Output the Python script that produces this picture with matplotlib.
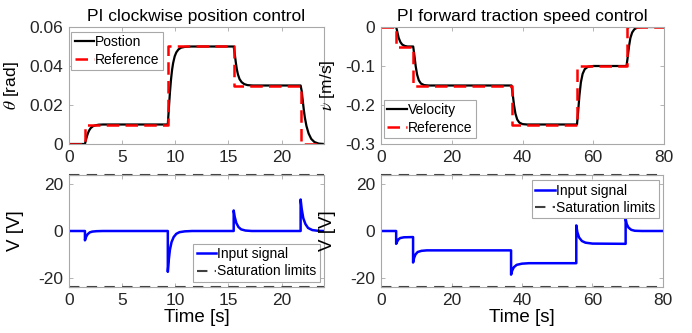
import matplotlib.pyplot as plt

plt.rcParams['font.family'] = ['Liberation Sans', 'DejaVu Sans']
plt.rcParams['mathtext.fontset'] = 'stix'

# --- position control (left column) ---
pos_ref_t = [0, 1.5, 9.3, 15.5, 21.8, 24]
pos_ref = [0, 0.01, 0.05, 0.03, 0, 0]

pos_t = [0, 1.5, 1.6, 1.7, 1.8, 1.9, 2.05, 2.25, 2.5, 2.8, 3.2, 3.8,
         9.3, 9.4, 9.5, 9.6, 9.7, 9.8, 9.95, 10.1, 10.3, 10.55, 10.9, 11.5,
         15.5, 15.6, 15.7, 15.8, 15.9, 16.05, 16.25, 16.5, 16.8, 17.3,
         21.8, 21.9, 22.0, 22.1, 22.2, 22.35, 22.55, 22.8, 23.1, 23.5, 24]
pos = [0, 0, 0.0022, 0.0042, 0.0058, 0.007, 0.0082, 0.0091, 0.0096, 0.0099, 0.01, 0.01,
       0.01, 0.0185, 0.0265, 0.033, 0.038, 0.0415, 0.045, 0.047, 0.0485, 0.0494, 0.0498, 0.05,
       0.05, 0.0462, 0.0418, 0.0382, 0.0357, 0.0333, 0.0317, 0.0307, 0.0302, 0.03,
       0.03, 0.0272, 0.0222, 0.0175, 0.0135, 0.0092, 0.0054, 0.0026, 0.001, 0.0002, 0]

u_pos_t = [0, 1.5, 1.5, 1.6, 1.75, 1.95, 2.2, 2.6, 3.2,
           9.3, 9.3, 9.4, 9.5, 9.65, 9.85, 10.1, 10.4, 10.9, 11.6,
           15.5, 15.5, 15.6, 15.75, 15.95, 16.2, 16.6, 17.2,
           21.8, 21.8, 21.9, 22.05, 22.25, 22.5, 22.9, 23.5, 24]
u_pos = [0, 0, -4.0, -2.6, -1.4, -0.6, -0.25, -0.08, 0,
         0, -17.5, -12.0, -8.0, -4.8, -2.6, -1.2, -0.5, -0.15, 0,
         0, 8.8, 6.0, 3.4, 1.7, 0.7, 0.2, 0,
         0, 13.5, 9.5, 5.5, 3.0, 1.3, 0.4, 0.05, 0]

# --- speed control (right column) ---
vel_ref_t = [0, 4.3, 9.1, 36.9, 55.4, 69.4, 80]
vel_ref = [0, -0.05, -0.15, -0.25, -0.1, 0, 0]

vel_t = [0, 4.3, 4.6, 5.0, 5.5, 6.0, 6.7, 7.5,
         9.1, 9.4, 9.8, 10.2, 10.7, 11.3, 12.2, 13.5,
         36.9, 37.2, 37.6, 38.0, 38.5, 39.1, 40.0, 41.3,
         55.4, 55.7, 56.1, 56.5, 57.0, 57.6, 58.5, 60.0,
         69.4, 69.7, 70.1, 70.5, 71.0, 71.6, 72.5, 74.0, 80]
vel = [0, 0, -0.012, -0.028, -0.039, -0.045, -0.0485, -0.05,
       -0.05, -0.07, -0.1, -0.122, -0.137, -0.145, -0.149, -0.15,
       -0.15, -0.17, -0.2, -0.222, -0.237, -0.245, -0.249, -0.25,
       -0.25, -0.22, -0.175, -0.142, -0.12, -0.108, -0.102, -0.1,
       -0.1, -0.08, -0.05, -0.028, -0.014, -0.006, -0.001, 0, 0]

u_vel_t = [0, 4.3, 4.3, 4.6, 5.0, 5.5, 6.5, 9.1,
           9.1, 9.4, 9.8, 10.4, 11.5, 13.0, 36.9,
           36.9, 37.2, 37.7, 38.5, 40.0, 42.0, 55.4,
           55.4, 55.7, 56.2, 57.0, 58.0, 60.0, 69.4,
           69.4, 69.7, 70.2, 71.0, 72.0, 74.0, 80]
u_vel = [0, 0, -5.5, -4.5, -3.5, -3.0, -2.7, -2.6,
         -13.5, -11.5, -10.0, -9.0, -8.5, -8.3, -8.3,
         -18.7, -17.0, -15.5, -14.5, -14.0, -13.8, -13.8,
         2.4, -0.5, -2.8, -4.3, -5.0, -5.4, -5.5,
         5.2, 3.0, 1.5, 0.5, 0.1, 0, 0]

sat_limit = 24

pos_xticks = [0, 5, 10, 15, 20]
vel_xticks = [0, 20, 40, 60, 80]
pos_yticks = [0, 0.02, 0.04, 0.06]
pos_ylabels = ['0', '0.02', '0.04', '0.06']
vel_yticks = [-0.3, -0.2, -0.1, 0]
vel_ylabels = ['-0.3', '-0.2', '-0.1', '0']
u_yticks = [-20, 0, 20]
u_ylabels = ['-20', '0', '20']

W, H = 692, 333
fig = plt.figure(figsize=(W / 100, H / 100), dpi=100)


def px_axes(left, top, right, bottom):
    return fig.add_axes([left / W, 1 - bottom / H, (right - left) / W, (bottom - top) / H])


def style(ax):
    for s in ax.spines.values():
        s.set_color('#a8a8a8')
        s.set_linewidth(0.8)
    ax.tick_params(direction='in', top=True, right=True, length=3, width=0.6,
                   color='#a8a8a8', labelcolor='#262626', labelsize=12.5, pad=4)


def legend(ax, loc, anchor):
    lg = ax.legend(loc=loc, bbox_to_anchor=anchor, borderaxespad=0, fontsize=10,
                   handlelength=1.4, handletextpad=0.1, labelspacing=0.25,
                   borderpad=0.25, fancybox=False, framealpha=1, edgecolor='#a8a8a8')
    lg.get_frame().set_linewidth(0.8)


def saturation(ax):
    ax.axhline(sat_limit, color='#404040', lw=1.5, ls=(0, (5, 3.5)),
               clip_on=False, label='Saturation limits')
    ax.axhline(-sat_limit, color='#404040', lw=1.5, ls=(0, (5, 3.5)), clip_on=False)


# top left
ax1 = px_axes(69, 27, 324, 144)
ax1.plot(pos_t, pos, color='black', lw=1.6, label='Postion')
ax1.plot(pos_ref_t, pos_ref, color='red', lw=1.8, ls=(0, (5, 2.5)),
         drawstyle='steps-post', label='Reference')
ax1.set_xlim(0, 24)
ax1.set_ylim(0, 0.06)
ax1.set_xticks(pos_xticks)
ax1.set_yticks(pos_yticks, pos_ylabels)
ax1.set_title('PI clockwise position control', fontsize=12.5, pad=4)
ax1.set_ylabel(r'$\theta$ [rad]', fontsize=12.5)
ax1.yaxis.set_label_coords(-0.19, 0.5)
style(ax1)
legend(ax1, 'upper left', (0.008, 0.96))

# top right
ax2 = px_axes(381, 27, 664, 144)
ax2.plot(vel_t, vel, color='black', lw=1.6, label='Velocity')
ax2.plot(vel_ref_t, vel_ref, color='red', lw=1.8, ls=(0, (5, 2.5)),
         drawstyle='steps-post', label='Reference')
ax2.set_xlim(0, 80)
ax2.set_ylim(-0.3, 0)
ax2.set_xticks(vel_xticks)
ax2.set_yticks(vel_yticks, vel_ylabels)
ax2.set_title('PI forward traction speed control', fontsize=12.5, pad=4)
ax2.set_ylabel(r'$\nu$ [m/s]', fontsize=12.5)
ax2.yaxis.set_label_coords(-0.155, 0.5)
style(ax2)
legend(ax2, 'lower left', (0.01, 0.05))

# bottom left
ax3 = px_axes(69, 175, 324, 287)
ax3.plot(u_pos_t, u_pos, color='blue', lw=1.8, label='Input signal')
saturation(ax3)
ax3.set_xlim(0, 24)
ax3.set_ylim(-sat_limit, sat_limit)
ax3.set_xticks(pos_xticks)
ax3.set_yticks(u_yticks, u_ylabels)
ax3.set_ylabel('V [V]', fontsize=13.5)
ax3.set_xlabel('Time [s]', fontsize=13.5)
ax3.yaxis.set_label_coords(-0.175, 0.5)
ax3.xaxis.set_label_coords(0.5, -0.2)
style(ax3)
legend(ax3, 'lower right', (0.985, 0.045))

# bottom right
ax4 = px_axes(381, 175, 663, 287)
ax4.plot(u_vel_t, u_vel, color='blue', lw=1.8, label='Input signal')
saturation(ax4)
ax4.set_xlim(0, 80)
ax4.set_ylim(-sat_limit, sat_limit)
ax4.set_xticks(vel_xticks)
ax4.set_yticks(u_yticks, u_ylabels)
ax4.set_ylabel('V [V]', fontsize=13.5)
ax4.set_xlabel('Time [s]', fontsize=13.5)
ax4.yaxis.set_label_coords(-0.16, 0.5)
ax4.xaxis.set_label_coords(0.5, -0.2)
style(ax4)
legend(ax4, 'upper right', (0.985, 0.955))

fig.savefig('out.png', dpi=100)
plt.close(fig)
